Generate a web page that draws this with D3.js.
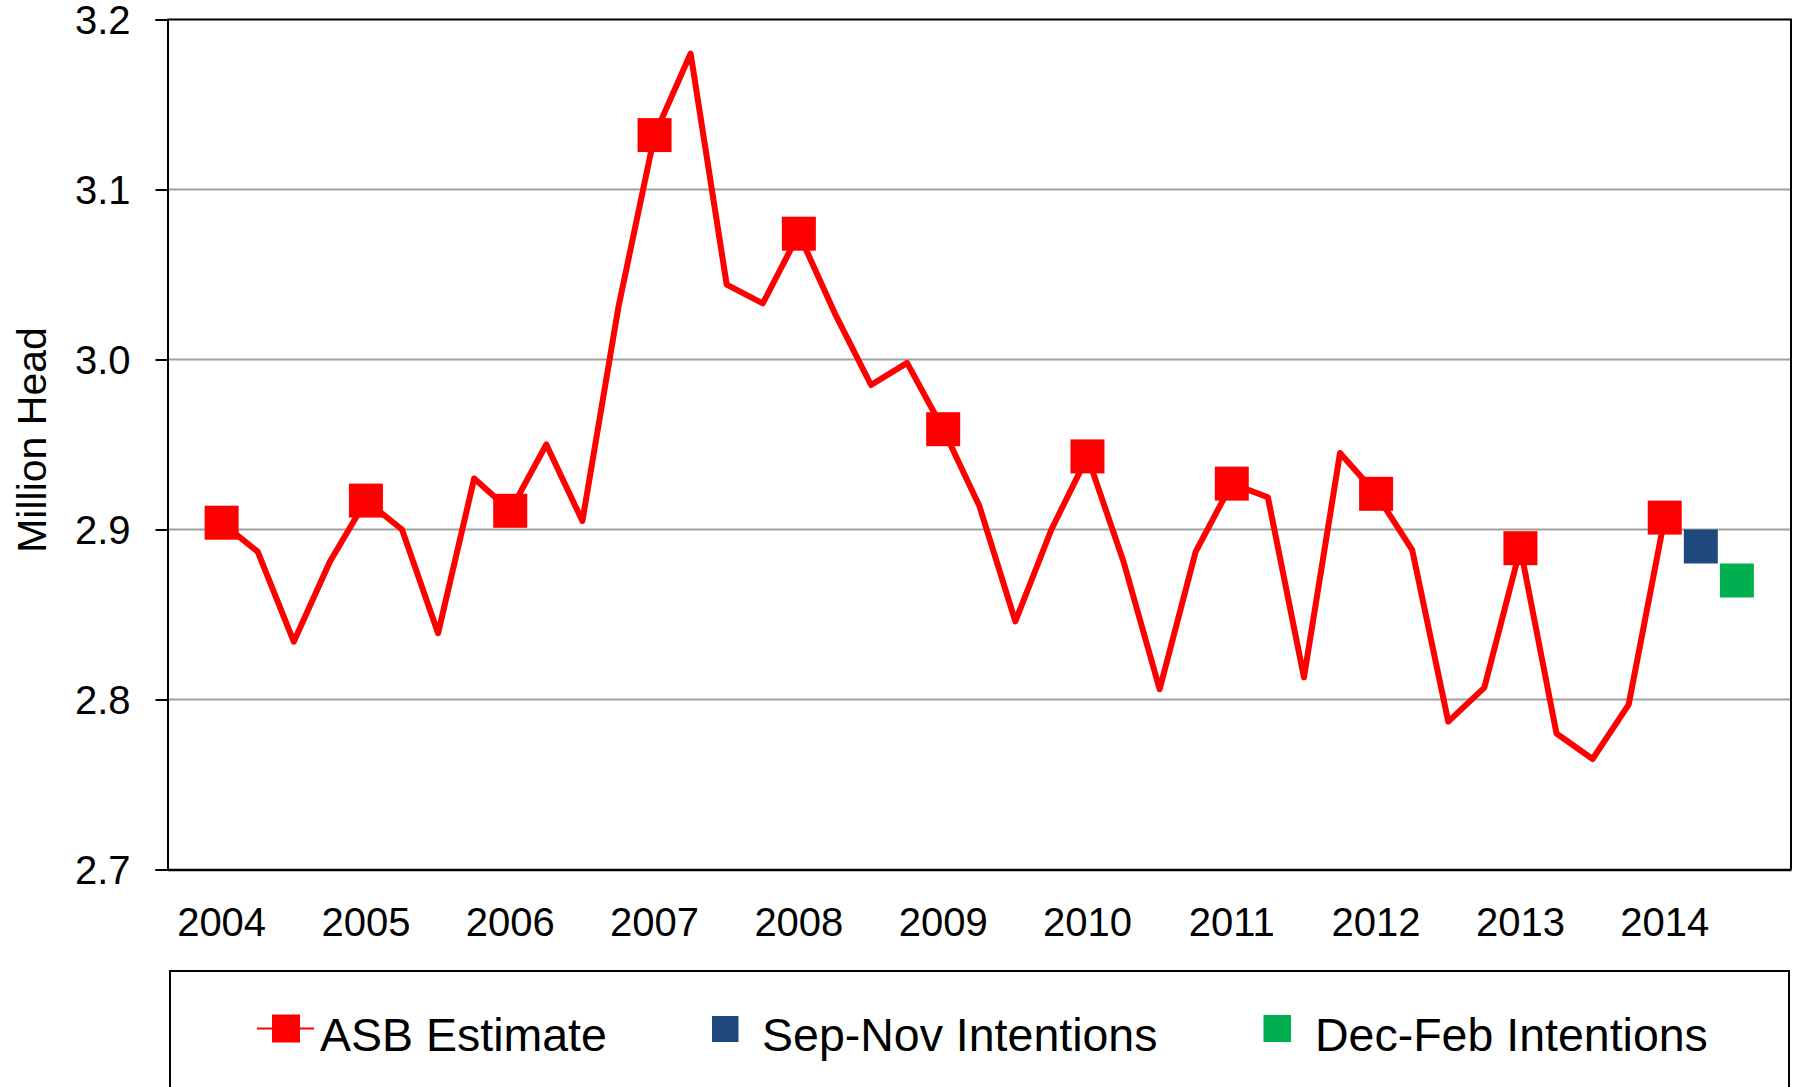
<!DOCTYPE html>
<html>
<head>
<meta charset="utf-8">
<script src="https://cdn.jsdelivr.net/npm/d3@7"></script>
<style>
  body { margin: 0; background: #fff; }
  text { font-family: "Liberation Sans", Arial, sans-serif; fill: #000; }
</style>
</head>
<body>
<div id="chart"></div>
<script>
// quarterly ASB estimates, 2004 Q1 .. 2014 Q1 (million head)
var years = ["2004", "2005", "2006", "2007", "2008", "2009", "2010", "2011", "2012", "2013", "2014"];
var quarters = ["Q1", "Q2", "Q3", "Q4"];
var asbEstimate = [
  2.904, 2.887, 2.834, 2.881,
  2.917, 2.900, 2.839, 2.930,
  2.911, 2.950, 2.905, 3.031,
  3.132, 3.180, 3.044, 3.033,
  3.074, 3.027, 2.985, 2.998,
  2.959, 2.914, 2.846, 2.900,
  2.943, 2.881, 2.806, 2.887,
  2.927, 2.919, 2.813, 2.945,
  2.921, 2.888, 2.787, 2.807,
  2.889, 2.780, 2.765, 2.797,
  2.907
];
var sepNovIntentions = [{period: "2014 Q2", value: 2.890}];
var decFebIntentions = [{period: "2014 Q3", value: 2.870}];
var yTicks = [2.7, 2.8, 2.9, 3.0, 3.1, 3.2];
var legendItems = ["ASB Estimate", "Sep-Nov Intentions", "Dec-Feb Intentions"];

var red = "#ff0000", blue = "#1f497d", green = "#00b050";

// category axis: one empty slot before 2004 Q1
var categories = ["2003 Q4"];
years.forEach(function(y) {
  quarters.forEach(function(q) { categories.push(y + " " + q); });
});

var asbData = asbEstimate.map(function(v, i) {
  return {period: categories[i + 1], value: v};
});

var W = 1798, H = 1087;
var margin = {top: 19.5, right: 7, bottom: 217.5, left: 167.5};
var width = W - margin.left - margin.right;
var height = H - margin.top - margin.bottom;

var svg = d3.select("#chart").append("svg")
    .attr("width", W)
    .attr("height", H);

var g = svg.append("g")
    .attr("transform", "translate(" + margin.left + "," + margin.top + ")");

var x = d3.scaleBand()
    .domain(categories)
    .range([0, width]);

var y = d3.scaleLinear()
    .domain([2.7, 3.2])
    .range([height, 0]);

function cx(d) { return x(d.period) + x.bandwidth() / 2; }

// gridlines
g.append("g")
  .selectAll("line")
  .data(yTicks.slice(1, -1))
  .enter().append("line")
    .attr("x1", 0)
    .attr("x2", width)
    .attr("y1", function(d) { return y(d); })
    .attr("y2", function(d) { return y(d); })
    .attr("stroke", "#a0a0a0")
    .attr("stroke-width", 1.8);

// plot border top/right
g.append("path")
    .attr("d", "M0,0H" + width + "V" + height)
    .attr("fill", "none")
    .attr("stroke", "#000")
    .attr("stroke-width", 2);

// y axis
var yAxis = d3.axisLeft(y)
    .tickValues(yTicks)
    .tickFormat(d3.format(".1f"))
    .tickSize(12)
    .tickPadding(25);

var yG = g.append("g").call(yAxis);
yG.select(".domain").attr("stroke-width", 2);
yG.selectAll(".tick line").attr("stroke-width", 2);
yG.selectAll("text")
    .style("font-size", "40px")
    .attr("dy", "0.36em");

// x axis: year labels only on Q1
var xAxis = d3.axisBottom(x)
    .tickValues(years.map(function(yr) { return yr + " Q1"; }))
    .tickFormat(function(d) { return d.slice(0, 4); })
    .tickSize(0)
    .tickPadding(38);

var xG = g.append("g")
    .attr("transform", "translate(0," + height + ")")
    .call(xAxis);
xG.select(".domain").attr("stroke-width", 2.5);
xG.selectAll("text").style("font-size", "40px");

// axis title
svg.append("text")
    .attr("transform", "translate(46,440) rotate(-90)")
    .attr("text-anchor", "middle")
    .style("font-size", "41px")
    .text("Million Head");

// ASB line
var line = d3.line()
    .x(cx)
    .y(function(d) { return y(d.value); });

g.append("path")
    .datum(asbData)
    .attr("d", line)
    .attr("fill", "none")
    .attr("stroke", red)
    .attr("stroke-width", 6)
    .attr("stroke-linejoin", "round");

var ms = 34;

// markers on Q1 points only
g.selectAll(".asb-marker")
    .data(asbData.filter(function(d) { return /Q1$/.test(d.period); }))
  .enter().append("rect")
    .attr("class", "asb-marker")
    .attr("x", function(d) { return cx(d) - ms / 2; })
    .attr("y", function(d) { return y(d.value) - ms / 2; })
    .attr("width", ms)
    .attr("height", ms)
    .attr("fill", red);

g.selectAll(".sepnov")
    .data(sepNovIntentions)
  .enter().append("rect")
    .attr("class", "sepnov")
    .attr("x", function(d) { return cx(d) - ms / 2; })
    .attr("y", function(d) { return y(d.value) - ms / 2; })
    .attr("width", ms)
    .attr("height", ms)
    .attr("fill", blue);

g.selectAll(".decfeb")
    .data(decFebIntentions)
  .enter().append("rect")
    .attr("class", "decfeb")
    .attr("x", function(d) { return cx(d) - ms / 2; })
    .attr("y", function(d) { return y(d.value) - ms / 2; })
    .attr("width", ms)
    .attr("height", ms)
    .attr("fill", green);

// legend
var legend = svg.append("g");

legend.append("rect")
    .attr("x", 170)
    .attr("y", 971)
    .attr("width", 1619)
    .attr("height", 200)
    .attr("fill", "#fff")
    .attr("stroke", "#000")
    .attr("stroke-width", 2);

var ly = 1028.5;

legend.append("line")
    .attr("x1", 257).attr("x2", 314)
    .attr("y1", ly).attr("y2", ly)
    .attr("stroke", red)
    .attr("stroke-width", 2);
legend.append("rect")
    .attr("x", 272).attr("y", ly - 14)
    .attr("width", 28).attr("height", 28)
    .attr("fill", red);
legend.append("rect")
    .attr("x", 712).attr("y", ly - 12.5)
    .attr("width", 26.5).attr("height", 26)
    .attr("fill", blue);
legend.append("rect")
    .attr("x", 1263.5).attr("y", ly - 13.5)
    .attr("width", 27.5).attr("height", 27)
    .attr("fill", green);

legend.selectAll(".legend-label")
    .data(legendItems)
  .enter().append("text")
    .attr("class", "legend-label")
    .attr("x", function(d, i) { return [320, 762, 1315][i]; })
    .attr("y", 1051)
    .style("font-size", "46.5px")
    .text(function(d) { return d; });
</script>
</body>
</html>
